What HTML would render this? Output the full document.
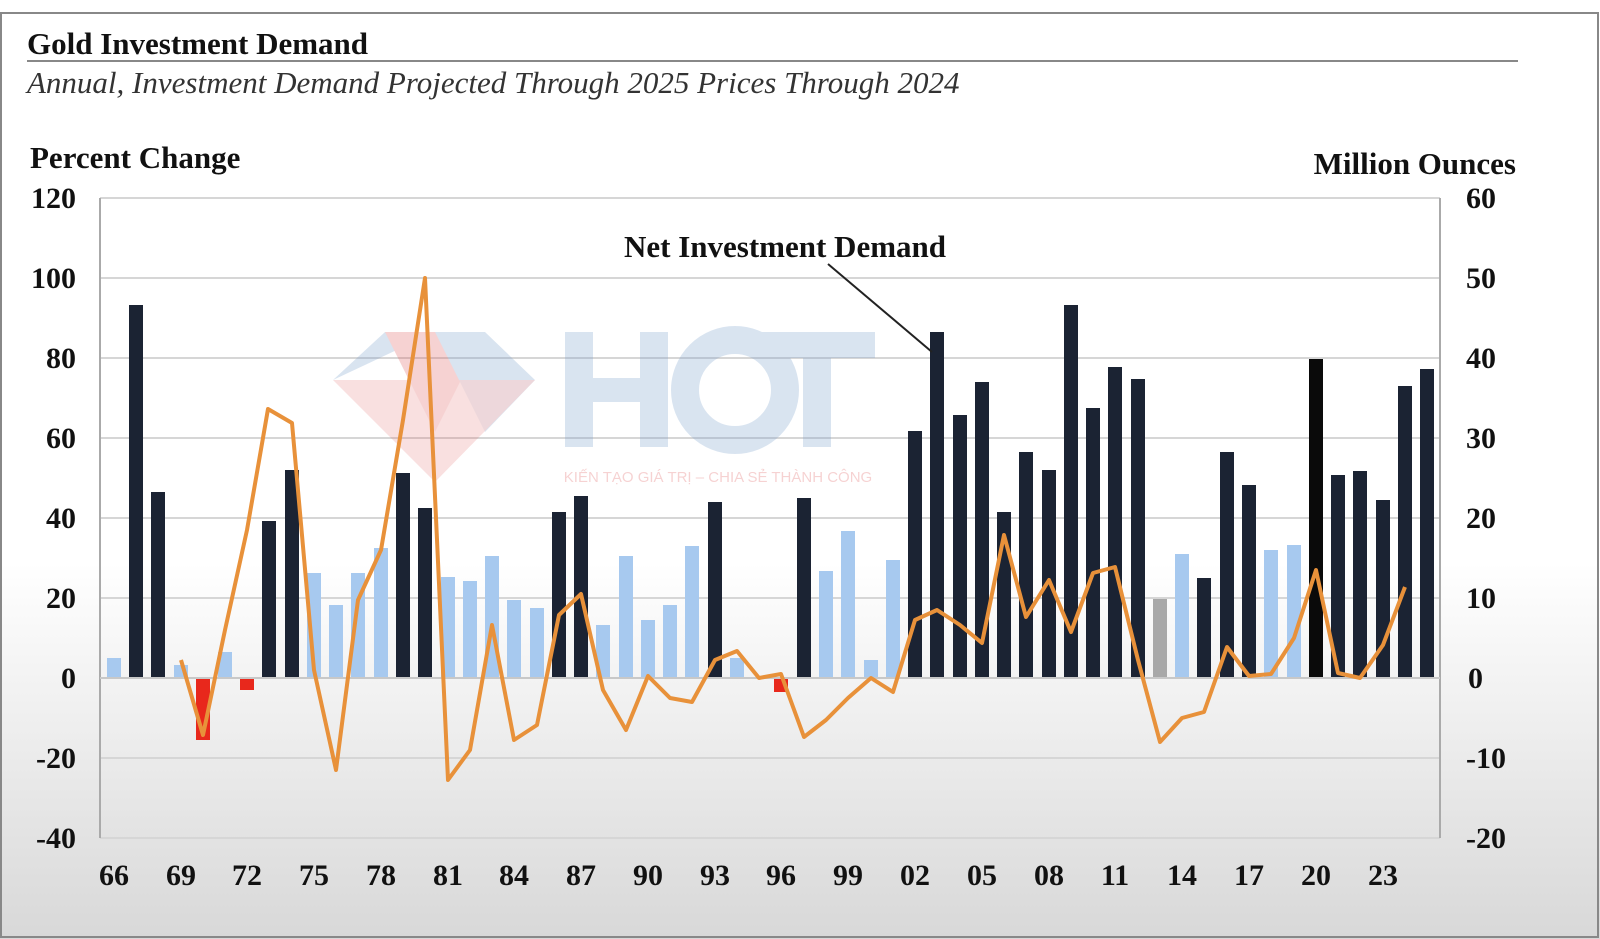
<!DOCTYPE html>
<html><head><meta charset="utf-8"><style>
html,body{margin:0;padding:0;width:1600px;height:939px;overflow:hidden;background:#fff}
svg{display:block}
</style></head><body>
<svg width="1600" height="939" viewBox="0 0 1600 939" xmlns="http://www.w3.org/2000/svg">
<defs>
<linearGradient id="bg" x1="0" y1="0" x2="0" y2="1">
<stop offset="0" stop-color="#ffffff"/><stop offset="0.6" stop-color="#ffffff"/><stop offset="1" stop-color="#d8d8d8"/>
</linearGradient>
</defs>
<rect width="1600" height="939" fill="url(#bg)"/>
<rect x="1" y="13" width="1597" height="924" fill="none" stroke="#888" stroke-width="2"/>
<g font-family="Liberation Serif, serif" fill="#111">
<text x="27" y="54" font-size="31" font-weight="bold">Gold Investment Demand</text>
<line x1="27" y1="61" x2="1518" y2="61" stroke="#888" stroke-width="2"/>
<text x="27" y="93" font-size="31" font-style="italic" fill="#333">Annual, Investment Demand Projected Through 2025 Prices Through 2024</text>
<text x="30" y="168" font-size="31" font-weight="bold">Percent Change</text>
<text x="1516" y="174" font-size="31" font-weight="bold" text-anchor="end">Million Ounces</text>
</g>
<g stroke="#d6d6d6" stroke-width="2">
<line x1="100" y1="198" x2="1440" y2="198"/><line x1="100" y1="278" x2="1440" y2="278"/>
<line x1="100" y1="358" x2="1440" y2="358"/><line x1="100" y1="438" x2="1440" y2="438"/>
<line x1="100" y1="518" x2="1440" y2="518"/><line x1="100" y1="598" x2="1440" y2="598"/>
<line x1="100" y1="758" x2="1440" y2="758"/><line x1="100" y1="838" x2="1440" y2="838"/>
</g>
<g stroke="#aaa" stroke-width="2"><line x1="100" y1="198" x2="100" y2="838"/><line x1="1440" y1="198" x2="1440" y2="838"/></g>
<g font-family="Liberation Serif, serif" font-size="30" font-weight="bold" fill="#111">
<g text-anchor="end">
<text x="76" y="208">120</text><text x="76" y="288">100</text><text x="76" y="368">80</text><text x="76" y="448">60</text><text x="76" y="528">40</text><text x="76" y="608">20</text><text x="76" y="688">0</text><text x="76" y="768">-20</text><text x="76" y="848">-40</text>
</g>
<g text-anchor="end">
<text x="1496" y="208">60</text><text x="1496" y="288">50</text><text x="1496" y="368">40</text><text x="1496" y="448">30</text><text x="1496" y="528">20</text><text x="1496" y="608">10</text><text x="1483" y="688">0</text><text x="1506" y="768">-10</text><text x="1506" y="848">-20</text>
</g>
<g text-anchor="middle">
<text x="114" y="885">66</text><text x="181" y="885">69</text><text x="247" y="885">72</text><text x="314" y="885">75</text><text x="381" y="885">78</text><text x="448" y="885">81</text><text x="514" y="885">84</text><text x="581" y="885">87</text><text x="648" y="885">90</text><text x="715" y="885">93</text><text x="781" y="885">96</text><text x="848" y="885">99</text><text x="915" y="885">02</text><text x="982" y="885">05</text><text x="1049" y="885">08</text><text x="1115" y="885">11</text><text x="1182" y="885">14</text><text x="1249" y="885">17</text><text x="1316" y="885">20</text><text x="1383" y="885">23</text>
</g>
</g>
<g opacity="0.28">
<polygon points="333,380 385,332 435,332" fill="#7aa0cc"/>
<polygon points="385,332 485,332 435,432" fill="#e06060"/>
<polygon points="435,332 485,332 535,380 485,432" fill="#7aa0cc"/>
<polygon points="333,380 535,380 435,482" fill="#e06060" opacity="0.7"/>
<rect x="565" y="332" width="28" height="115" fill="#7aa0cc"/><rect x="640" y="332" width="28" height="115" fill="#7aa0cc"/><rect x="565" y="378" width="103" height="24" fill="#7aa0cc"/>
<circle cx="735" cy="390" r="50" fill="none" stroke="#7aa0cc" stroke-width="28"/>
<rect x="760" y="332" width="115" height="26" fill="#7aa0cc"/><rect x="803" y="332" width="28" height="115" fill="#7aa0cc"/>
<text x="718" y="482" font-family="Liberation Sans, sans-serif" font-size="15" fill="#e06060" text-anchor="middle">KIẾN TẠO GIÁ TRỊ – CHIA SẺ THÀNH CÔNG</text>
</g>
<g>
<rect x="107" y="658" width="14" height="20" fill="#a7c9ef"/>
<rect x="129" y="305" width="14" height="373" fill="#1b2333"/>
<rect x="151" y="492" width="14" height="186" fill="#1b2333"/>
<rect x="174" y="665" width="14" height="13" fill="#a7c9ef"/>
<rect x="196" y="678" width="14" height="62" fill="#e8281c"/>
<rect x="218" y="652" width="14" height="26" fill="#a7c9ef"/>
<rect x="240" y="678" width="14" height="12" fill="#e8281c"/>
<rect x="262" y="521" width="14" height="157" fill="#1b2333"/>
<rect x="285" y="470" width="14" height="208" fill="#1b2333"/>
<rect x="307" y="573" width="14" height="105" fill="#a7c9ef"/>
<rect x="329" y="605" width="14" height="73" fill="#a7c9ef"/>
<rect x="351" y="573" width="14" height="105" fill="#a7c9ef"/>
<rect x="374" y="548" width="14" height="130" fill="#a7c9ef"/>
<rect x="396" y="473" width="14" height="205" fill="#1b2333"/>
<rect x="418" y="508" width="14" height="170" fill="#1b2333"/>
<rect x="441" y="577" width="14" height="101" fill="#a7c9ef"/>
<rect x="463" y="581" width="14" height="97" fill="#a7c9ef"/>
<rect x="485" y="556" width="14" height="122" fill="#a7c9ef"/>
<rect x="507" y="600" width="14" height="78" fill="#a7c9ef"/>
<rect x="530" y="608" width="14" height="70" fill="#a7c9ef"/>
<rect x="552" y="512" width="14" height="166" fill="#1b2333"/>
<rect x="574" y="496" width="14" height="182" fill="#1b2333"/>
<rect x="596" y="625" width="14" height="53" fill="#a7c9ef"/>
<rect x="619" y="556" width="14" height="122" fill="#a7c9ef"/>
<rect x="641" y="620" width="14" height="58" fill="#a7c9ef"/>
<rect x="663" y="605" width="14" height="73" fill="#a7c9ef"/>
<rect x="685" y="546" width="14" height="132" fill="#a7c9ef"/>
<rect x="708" y="502" width="14" height="176" fill="#1b2333"/>
<rect x="730" y="658" width="14" height="20" fill="#a7c9ef"/>
<rect x="774" y="678" width="14" height="14" fill="#e8281c"/>
<rect x="797" y="498" width="14" height="180" fill="#1b2333"/>
<rect x="819" y="571" width="14" height="107" fill="#a7c9ef"/>
<rect x="841" y="531" width="14" height="147" fill="#a7c9ef"/>
<rect x="864" y="660" width="14" height="18" fill="#a7c9ef"/>
<rect x="886" y="560" width="14" height="118" fill="#a7c9ef"/>
<rect x="908" y="431" width="14" height="247" fill="#1b2333"/>
<rect x="930" y="332" width="14" height="346" fill="#1b2333"/>
<rect x="953" y="415" width="14" height="263" fill="#1b2333"/>
<rect x="975" y="382" width="14" height="296" fill="#1b2333"/>
<rect x="997" y="512" width="14" height="166" fill="#1b2333"/>
<rect x="1019" y="452" width="14" height="226" fill="#1b2333"/>
<rect x="1042" y="470" width="14" height="208" fill="#1b2333"/>
<rect x="1064" y="305" width="14" height="373" fill="#1b2333"/>
<rect x="1086" y="408" width="14" height="270" fill="#1b2333"/>
<rect x="1108" y="367" width="14" height="311" fill="#1b2333"/>
<rect x="1131" y="379" width="14" height="299" fill="#1b2333"/>
<rect x="1153" y="599" width="14" height="79" fill="#a8a8a8"/>
<rect x="1175" y="554" width="14" height="124" fill="#a7c9ef"/>
<rect x="1197" y="578" width="14" height="100" fill="#1b2333"/>
<rect x="1220" y="452" width="14" height="226" fill="#1b2333"/>
<rect x="1242" y="485" width="14" height="193" fill="#1b2333"/>
<rect x="1264" y="550" width="14" height="128" fill="#a7c9ef"/>
<rect x="1287" y="545" width="14" height="133" fill="#a7c9ef"/>
<rect x="1309" y="359" width="14" height="319" fill="#0a0a0a"/>
<rect x="1331" y="475" width="14" height="203" fill="#1b2333"/>
<rect x="1353" y="471" width="14" height="207" fill="#1b2333"/>
<rect x="1376" y="500" width="14" height="178" fill="#1b2333"/>
<rect x="1398" y="386" width="14" height="292" fill="#1b2333"/>
<rect x="1420" y="369" width="14" height="309" fill="#1b2333"/>
</g>
<line x1="100" y1="678" x2="1440" y2="678" stroke="#c8c8c8" stroke-width="2"/>
<polyline fill="none" stroke="#e8913a" stroke-width="4" stroke-linejoin="round" points="181,660 203,735 225,630 247,530 268,409 292,423 314,670 336,770 358,600 381,550 403,420 425,278 448,780 470,750 492,625 514,740 537,725 559,615 581,594 603,690 626,730 648,676 670,698 692,702 715,660 737,651 759,678 781,674 804,737 826,720 848,698 871,678 893,692 915,620 937,610 960,625 982,643 1004,535 1026,617 1049,580 1071,632 1093,573 1115,567 1138,660 1160,742 1182,718 1204,712 1227,647 1249,676 1271,674 1294,638 1316,570 1338,673 1360,678 1383,645 1405,587"/>
<text x="785" y="257" font-family="Liberation Serif, serif" font-size="31" font-weight="bold" fill="#111" text-anchor="middle">Net Investment Demand</text>
<line x1="828" y1="264" x2="932" y2="352" stroke="#222" stroke-width="2"/>
</svg>
</body></html>
